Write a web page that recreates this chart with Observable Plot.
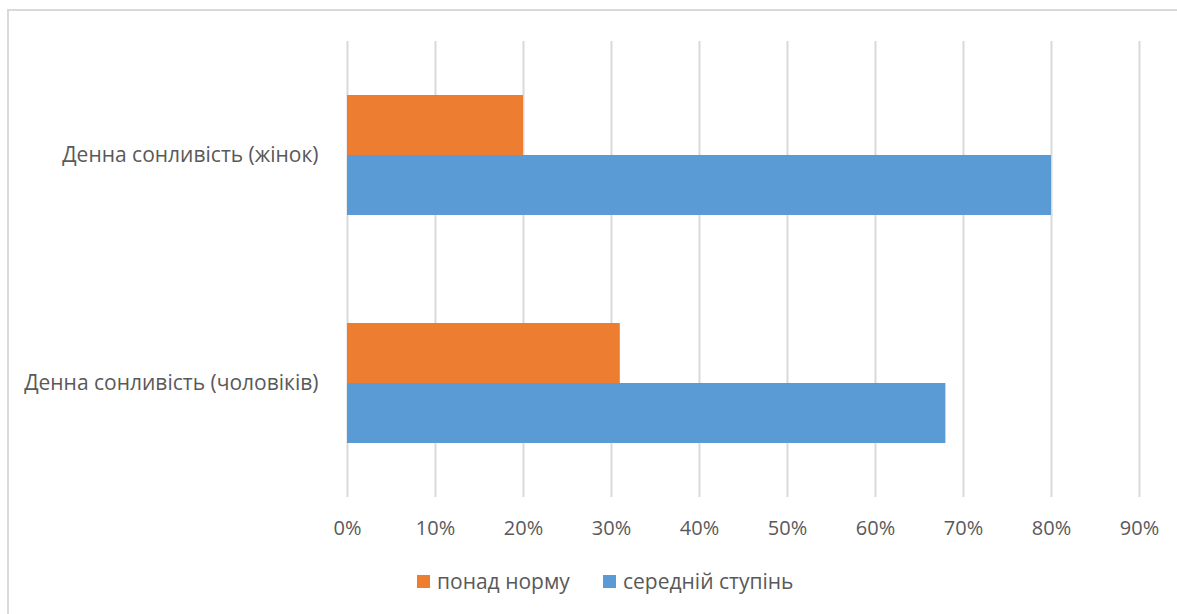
<!DOCTYPE html>
<html>
<head>
<meta charset="utf-8">
<script src="https://cdn.jsdelivr.net/npm/d3@7"></script>
<script src="https://cdn.jsdelivr.net/npm/@observablehq/plot@0.6"></script>
<style>
  html, body { margin: 0; padding: 0; background: #fff; overflow: hidden; }
  #frame { position: absolute; left: 7px; top: 9px; width: 1300px; height: 700px;
           border-left: 2px solid #d9d9d9; border-top: 2px solid #d9d9d9; }
  #chart { position: absolute; left: 0; top: 0; }
  #legend { position: absolute; top: 567px; left: 0; width: 1177px; height: 30px;
            font-family: "Open Sans", sans-serif; font-size: 21px; color: #595959; }
  .item { position: absolute; top: 0; display: flex; align-items: center; white-space: nowrap; }
  .sw { width: 13px; height: 13px; margin-right: 7px; }
</style>
</head>
<body>
<div id="frame"></div>
<div id="chart"></div>
<div id="legend"></div>
<script>
const categories = ["Денна сонливість (жінок)", "Денна сонливість (чоловіків)"];
const series = ["понад норму", "середній ступінь"];
const aboveNorm = [0.20, 0.31];
const average = [0.80, 0.68];
const xTicks = [0, 0.1, 0.2, 0.3, 0.4, 0.5, 0.6, 0.7, 0.8, 0.9];
const colors = ["#ED7D31", "#5B9BD5"];
const legendX = [417, 603];

const data = [];
categories.forEach((c, i) => {
  data.push({category: c, series: series[0], value: aboveNorm[i]});
  data.push({category: c, series: series[1], value: average[i]});
});

const fmt = d => Math.round(d * 100) + "%";

const chart = Plot.plot({
  width: 1177,
  height: 545,
  marginLeft: 347,
  marginRight: 38,
  marginTop: 40,
  marginBottom: 48,
  style: {fontFamily: "'Open Sans', sans-serif", fontSize: "20px", color: "#595959", background: "transparent"},
  x: {domain: [0, 0.9], ticks: xTicks, tickFormat: fmt, label: null},
  y: {domain: series, axis: null, paddingInner: 0, paddingOuter: 0.9, label: null},
  fy: {domain: categories, padding: 0, axis: null, label: null},
  color: {domain: series, range: colors},
  marks: [
    Plot.gridX(xTicks, {stroke: "#d9d9d9", strokeOpacity: 1, strokeWidth: 2}),
    Plot.axisX({ticks: xTicks, tickSize: 0, tickPadding: 23, tickFormat: fmt, fill: "#595959", label: null, fontSize: 20}),
    Plot.axisFy({anchor: "left", tickSize: 0, tickPadding: 29, fill: "#595959", label: null, fontSize: 21}),
    Plot.barX(data, {x: "value", y: "series", fy: "category", fill: "series"})
  ]
});
document.getElementById("chart").appendChild(chart);

const legend = document.getElementById("legend");
series.forEach((s, i) => {
  const item = document.createElement("div");
  item.className = "item";
  item.style.left = legendX[i] + "px";
  const sw = document.createElement("span");
  sw.className = "sw";
  sw.style.background = colors[i];
  const t = document.createElement("span");
  t.textContent = s;
  item.appendChild(sw);
  item.appendChild(t);
  legend.appendChild(item);
});
</script>
</body>
</html>
